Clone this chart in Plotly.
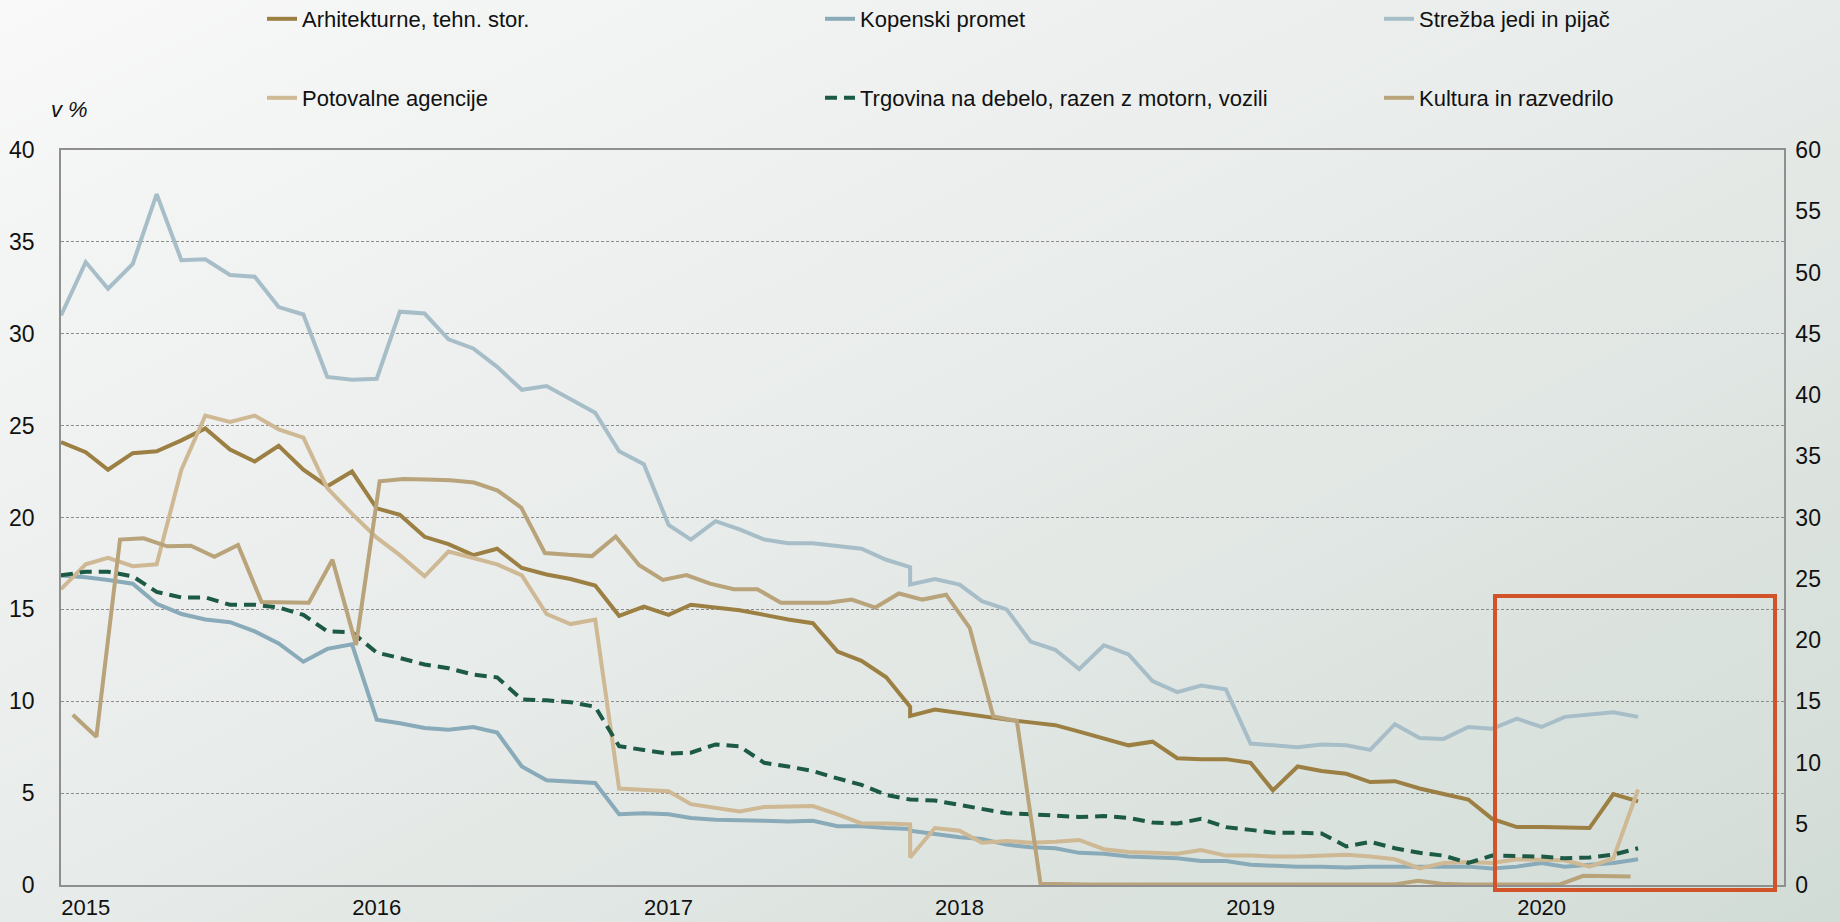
"""
Delež po dejavnostih, v % (mesečno, 2015-2020)
"""
import base64
import plotly.graph_objects as go

FONT = "Liberation Sans Narrow, Arial Narrow, Liberation Sans, sans-serif"

# monthly dates Jan 2015 - Jun 2020, Dec 2017 appears twice (break in series)
months = [f"{y}-{m:02d}-01" for y in range(2015, 2021) for m in range(1, 13)][:66]
months.insert(36, "2017-12-01")
# row numbers for the series on the secondary (category) axis
rows = list(range(len(months)))

arhitekturne = [24.1, 23.55, 22.6, 23.5, 23.6, 24.2, 24.85, 23.7, 23.05, 23.9, 22.6, 21.7,
                22.5, 20.5, 20.15, 18.95, 18.55, 17.95, 18.3, 17.25, 16.9, 16.65, 16.3, 14.65,
                15.15, 14.7, 15.25, 15.1, 14.95, 14.7, 14.45, 14.25, 12.7, 12.2, 11.3, 9.7,
                9.2, 9.55, 9.35, 9.2, 9.0, 8.85, 8.7, 8.35, 8.0, 7.6, 7.8, 6.9,
                6.85, 6.85, 6.65, 5.15, 6.45, 6.2, 6.05, 5.6, 5.65, 5.25, 4.95, 4.65,
                3.6, 3.15, 3.15, 3.1, 3.1, 4.95, 4.55]

kopenski = [16.85, 16.75, 16.6, 16.4, 15.3, 14.75, 14.45, 14.3, 13.8, 13.15, 12.15, 12.85,
            13.1, 9.0, 8.8, 8.55, 8.45, 8.6, 8.3, 6.45, 5.7, 5.65, 5.55, 3.85,
            3.9, 3.85, 3.65, 3.55, 3.55, 3.5, 3.45, 3.5, 3.2, 3.2, 3.1, 3.05,
            2.95, 2.75, 2.6, 2.5, 2.2, 2.05, 2.0, 1.75, 1.7, 1.55, 1.5, 1.45,
            1.3, 1.3, 1.1, 1.05, 1.0, 1.0, 0.95, 1.0, 1.0, 1.0, 1.0, 1.0,
            0.9, 1.0, 1.2, 1.0, 1.1, 1.2, 1.4]

strezba = [31.0, 33.9, 32.45, 33.8, 37.6, 34.0, 34.05, 33.2, 33.1, 31.45, 31.05, 27.65,
           27.5, 27.55, 31.2, 31.1, 29.7, 29.2, 28.2, 26.95, 27.15, 26.45, 25.7, 23.6,
           22.9, 19.6, 18.8, 19.8, 19.35, 18.8, 18.6, 18.6, 18.45, 18.3, 17.7, 17.3,
           16.35, 16.65, 16.35, 15.45, 15.0, 13.25, 12.8, 11.75, 13.05, 12.55, 11.1, 10.5,
           10.85, 10.65, 7.7, 7.6, 7.5, 7.65, 7.6, 7.35, 8.75, 8.0, 7.95, 8.6,
           8.5, 9.05, 8.6, 9.15, 9.25, 9.4, 9.15]

potovalne = [16.1, 17.45, 17.8, 17.35, 17.45, 22.6, 25.55, 25.2, 25.55, 24.8, 24.35, 21.6,
             20.2, 18.9, 17.95, 16.8, 18.15, 17.8, 17.45, 16.85, 14.75, 14.2, 14.45, 5.25,
             5.2, 5.1, 4.4, 4.2, 4.0, 4.25, 4.3, 4.3, 3.85, 3.35, 3.35, 3.3,
             1.5, 3.1, 2.95, 2.3, 2.4, 2.3, 2.35, 2.45, 1.95, 1.8, 1.75, 1.7,
             1.9, 1.6, 1.6, 1.55, 1.55, 1.6, 1.65, 1.55, 1.4, 0.9, 1.2, 1.25,
             1.2, 1.4, 1.4, 1.35, 1.0, 1.45, 5.2]

trgovina = [16.85, 17.05, 17.05, 16.8, 15.95, 15.65, 15.65, 15.25, 15.25, 15.1, 14.7, 13.8,
            13.75, 12.65, 12.35, 12.0, 11.8, 11.45, 11.3, 10.1, 10.05, 9.95, 9.7, 7.55,
            7.35, 7.15, 7.2, 7.65, 7.55, 6.65, 6.45, 6.2, 5.8, 5.45, 4.9, 4.7,
            4.65, 4.6, 4.35, 4.1, 3.9, 3.85, 3.75, 3.7, 3.75, 3.65, 3.4, 3.35,
            3.6, 3.15, 3.0, 2.85, 2.85, 2.8, 2.1, 2.35, 2.0, 1.75, 1.6, 1.2,
            1.6, 1.6, 1.55, 1.45, 1.5, 1.65, 2.0]

# right axis (0-60)
kultura = [13.9, 12.1, 28.2, 28.3, 27.65, 27.7, 26.8, 27.75, 23.1, 23.05, 23.05, 26.55,
           19.6, 32.95, 33.15, 33.1, 33.05, 32.85, 32.2, 30.8, 27.1, 26.95, 26.85, 28.45,
           26.1, 24.9, 25.3, 24.6, 24.15, 24.15, 23.05, 23.05, 23.05, 23.3, 22.65, 23.8,
           23.3, 23.7, 21.0, 13.75, 13.4, 0.1, 0.05, 0.05, 0.05, 0.05, 0.05, 0.05,
           0.05, 0.05, 0.05, 0.05, 0.05, 0.05, 0.05, 0.05, 0.05, 0.35, 0.1, 0.05,
           0.05, 0.05, 0.05, 0.05, 0.75, 0.75, 0.7]

year_ticks = [f"{y}-02-01" for y in range(2015, 2021)]
year_labels = [str(y) for y in range(2015, 2021)]


def gradient_background(w, h):
    svg = (f'<svg xmlns="http://www.w3.org/2000/svg" width="{w}" height="{h}">'
           '<defs><linearGradient id="g" x1="0" y1="0" x2="1" y2="1">'
           '<stop offset="0" stop-color="#f8f9f8"/>'
           '<stop offset="0.5" stop-color="#e7ebe9"/>'
           '<stop offset="1" stop-color="#d2dcd6"/>'
           '</linearGradient></defs>'
           f'<rect width="{w}" height="{h}" fill="url(#g)"/></svg>')
    return "data:image/svg+xml;base64," + base64.b64encode(svg.encode()).decode()


W, H = 1840, 922
L, R, T, B = 61, 56, 150, 37
pw, ph = W - L - R, H - T - B

fig = go.Figure()

# name, values, colour, dash, legend id (one legend per entry, 3 x 2 grid)
series = [
    ("Arhitekturne, tehn. stor.", arhitekturne, "#9c7f42", "solid", "legend"),
    ("Kopenski promet", kopenski, "#89aab8", "solid", "legend2"),
    ("Strežba jedi in pijač", strezba, "#a7bec8", "solid", "legend3"),
    ("Potovalne agencije", potovalne, "#cfb894", "solid", "legend4"),
    ("Trgovina na debelo, razen z motorn, vozili", trgovina, "#1c5a45", "12px,7px", "legend5"),
]
for name, vals, color, dash, leg in series:
    fig.add_trace(go.Scatter(x=months, y=vals, name=name, mode="lines",
                             line=dict(color=color, width=4, dash=dash),
                             legend=leg))

fig.add_trace(go.Scatter(x=rows, y=kultura, name="Kultura in razvedrilo", mode="lines",
                         line=dict(color="#b8a37a", width=4),
                         xaxis="x2", yaxis="y2", legend="legend6"))

# legend grid: text start x and row centre y, in pixels
col_x = [302, 860, 1419]
row_y = [19, 98]
legends = {}
for k, key in enumerate(["legend", "legend2", "legend3", "legend4", "legend5", "legend6"]):
    legends[key] = dict(x=(col_x[k % 3] - 40 - L) / pw, y=(H - B - row_y[k // 3]) / ph,
                        xanchor="left", yanchor="middle", orientation="h",
                        font=dict(family=FONT, size=22, color="#111111"),
                        bgcolor="rgba(0,0,0,0)", itemwidth=30)

fig.update_layout(
    width=W, height=H,
    margin=dict(l=L, r=R, t=T, b=B, autoexpand=False),
    paper_bgcolor="#e6ebe8",
    plot_bgcolor="rgba(0,0,0,0)",
    font=dict(family=FONT, size=23, color="#111111"),
    showlegend=True,
    **legends,
    xaxis=dict(type="date", range=["2015-01-01", "2020-12-01"],
               tickvals=year_ticks, ticktext=year_labels, ticks="",
               tickfont=dict(size=22),
               showgrid=False, showline=True, linecolor="#8f8f8f", linewidth=1.5,
               mirror=True, ticklabelstandoff=2, zeroline=False),
    xaxis2=dict(overlaying="x", range=[-0.5, 72.5], visible=False),
    yaxis=dict(range=[0, 40], dtick=5, ticks="", showline=True, linecolor="#8f8f8f",
               linewidth=1.5, gridcolor="#8c8c8c", griddash="3px,2px", gridwidth=1,
               zeroline=False, ticklabelstandoff=20),
    yaxis2=dict(overlaying="y", side="right", anchor="x", range=[0, 60], dtick=5,
                ticks="", showline=True, linecolor="#8f8f8f", linewidth=1.5,
                showgrid=False, zeroline=False, ticklabelstandoff=5),
    images=[dict(source=gradient_background(W, H), xref="paper", yref="paper",
                 x=-L / pw, y=1 + T / ph, sizex=W / pw, sizey=H / ph,
                 xanchor="left", yanchor="top", sizing="stretch", layer="below")],
    annotations=[dict(text="<i>v %</i>", xref="paper", yref="paper",
                      x=(49 - L) / pw, y=(H - B - 109) / ph, xanchor="left",
                      yanchor="middle", showarrow=False,
                      font=dict(family=FONT, size=22, color="#111111"))],
    shapes=[dict(type="rect", xref="paper", yref="paper",
                 x0=(1495 - L) / pw, x1=(1775 - L) / pw,
                 y0=(H - B - 890) / ph, y1=(H - B - 596) / ph,
                 line=dict(color="#d2522a", width=4), layer="above")],
)

# drop the page's default 8px body margin so the figure fills the window
fig.write_html("out.html", config={"displayModeBar": False},
               post_script="document.body.style.margin='0';document.body.style.overflow='hidden';")
